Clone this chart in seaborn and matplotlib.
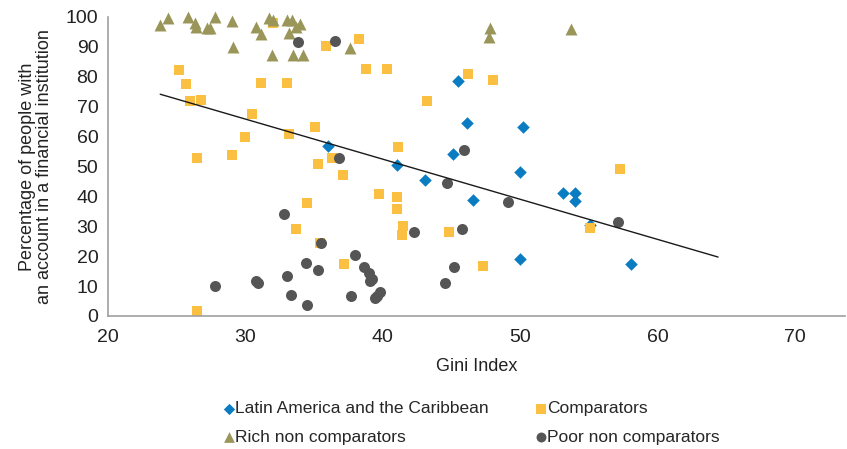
import matplotlib
matplotlib.use('Agg')
import matplotlib.pyplot as plt
import pandas as pd
import seaborn as sns

# Datos (Gini vs % con cuenta)
latam_x = [36.0, 41.0, 43.1, 45.1, 45.5, 46.1, 46.6, 50.0, 50.0, 50.2, 53.1, 54.0, 54.0, 55.1, 58.1]
latam_y = [56.9, 50.4, 45.4, 54.1, 78.5, 64.6, 38.8, 48.2, 19.0, 63.2, 41.0, 41.0, 38.4, 30.4, 17.5]

comp_x = [25.2, 25.7, 26.0, 26.8, 26.5, 26.5, 29.0, 30.0, 30.5, 31.1, 32.0, 33.0, 33.2, 33.7, 34.5, 35.1, 35.3, 35.4, 35.9,
          36.3, 37.1, 37.2, 38.3, 38.8, 39.7, 40.3, 41.0, 41.0, 41.1, 41.4, 41.5, 43.2, 44.8, 46.2, 47.3, 48.0, 55.1, 57.3]
comp_y = [82.2, 77.4, 71.9, 72.2, 52.9, 1.8, 53.8, 59.9, 67.5, 78.0, 97.8, 78.0, 60.8, 29.1, 37.9, 63.0, 50.7, 24.5, 90.3,
          52.9, 47.1, 17.4, 92.4, 82.5, 40.8, 82.5, 39.7, 35.9, 56.6, 27.1, 30.2, 71.9, 28.0, 80.9, 16.7, 78.9, 29.5, 49.1]

rich_x = [23.8, 24.4, 25.8, 26.3, 26.4, 27.2, 27.4, 27.8, 29.0, 29.1, 30.8, 31.1, 31.7, 32.0, 31.9, 33.0, 33.4,
          33.2, 33.7, 34.0, 33.5, 34.2, 37.6, 47.8, 47.75, 53.7]
rich_y = [97.2, 99.7, 99.8, 98.0, 96.5, 96.1, 96.1, 100.0, 98.7, 90.0, 96.5, 94.2, 99.5, 98.9, 87.2, 98.9, 98.9,
          94.7, 96.7, 97.6, 87.2, 87.2, 89.7, 96.1, 93.3, 95.8]

poor_x = [27.8, 30.8, 30.9, 32.8, 33.0, 33.3, 33.8, 34.4, 34.5, 35.3, 35.5, 36.5, 36.8, 37.7, 38.0, 38.6,
          39.0, 39.1, 39.2, 39.4, 39.6, 39.8, 42.3, 44.5, 44.7, 45.2, 45.8, 45.9, 49.1, 57.1]
poor_y = [10.1, 11.7, 11.1, 34.0, 13.4, 7.0, 91.4, 17.8, 3.7, 15.4, 24.5, 92.0, 52.9, 6.7, 20.5, 16.3,
          14.3, 11.8, 12.3, 6.0, 6.7, 7.9, 28.0, 11.0, 44.3, 16.3, 29.2, 55.4, 38.2, 31.4]

# linea de tendencia (extremos)
trend_x = [23.8, 64.4]
trend_y = [74.1, 19.7]

sns.set_style('white')
plt.rcParams['font.family'] = ['Liberation Sans', 'DejaVu Sans']

fig = plt.figure(figsize=(8.47, 4.49), dpi=100)
ax = fig.add_axes([108 / 847, 133 / 449, 737 / 847, 299.3 / 449])

grupos = [
    ('Latin America and the Caribbean', latam_x, latam_y, 'D', '#0a7cc2', 41),
    ('Comparators', comp_x, comp_y, 's', '#fbbf41', 52),
    ('Rich non comparators', rich_x, rich_y, '^', '#9a965a', 74),
    ('Poor non comparators', poor_x, poor_y, 'o', '#555555', 63),
]

for nombre, xs, ys, marca, color, tam in grupos:
    df = pd.DataFrame({'Gini': xs, 'Cuenta': ys})
    sns.scatterplot(data=df, x='Gini', y='Cuenta', marker=marca, color=color, s=tam,
                    linewidth=0, label=nombre, ax=ax, zorder=2, clip_on=False)

ax.plot(trend_x, trend_y, color='#1a1a1a', linewidth=1.0, zorder=3)

ax.set_xlim(20, 73.64)
ax.set_ylim(0, 100)
ax.set_xticks([20, 30, 40, 50, 60, 70])
ax.set_yticks(range(0, 101, 10))
sns.despine(ax=ax)
for lado in ['left', 'bottom']:
    ax.spines[lado].set_color('#a0a0a0')
    ax.spines[lado].set_linewidth(1.2)
ax.tick_params(axis='both', direction='out', width=1.0, color='#a0a0a0',
               labelsize=14, labelcolor='#222222')
ax.tick_params(axis='y', length=5, pad=2)
ax.tick_params(axis='x', length=4, pad=5)

ax.set_xlabel('Gini Index', fontsize=13, color='#222222', labelpad=9)
ax.set_ylabel('Percentage of people with\nan account in a financial institution',
              fontsize=13, color='#222222', labelpad=9, linespacing=1.0)

# leyenda en dos columnas, orden por filas
h, l = ax.get_legend_handles_labels()
ax.get_legend().remove()
orden = [0, 2, 1, 3]
fig.legend([h[i] for i in orden], [l[i] for i in orden], ncol=2, loc='center',
           bbox_to_anchor=(472 / 847, 1 - 423 / 449), frameon=False, fontsize=12.5,
           handlelength=0.5, handletextpad=0.12, columnspacing=2.75, labelspacing=0.78,
           markerscale=0.9, borderpad=0)

fig.savefig('out.png', dpi=100)
